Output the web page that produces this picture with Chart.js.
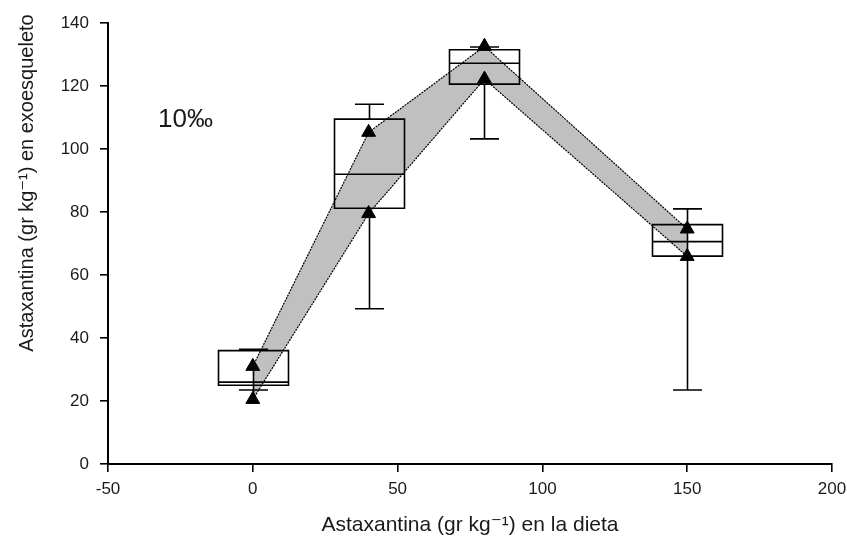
<!DOCTYPE html>
<html>
<head>
<meta charset="utf-8">
<script src="https://cdn.jsdelivr.net/npm/chart.js@4"></script>
<style>
  html, body { margin: 0; padding: 0; background: #fff; }
  #c { display: block; }
</style>
</head>
<body>
<canvas id="c" width="847" height="541"></canvas>
<script>
// Dietary astaxanthin dose (x) and exoskeleton astaxanthin (y)
const doses = [0, 40, 80, 150];
const whiskerHigh = [36.4, 114.2, 132.4, 81.0];
const boxQ3 = [36.0, 109.5, 131.5, 76.0];
const boxMedian = [26.0, 92.0, 127.2, 70.6];
const boxQ1 = [25.0, 81.2, 120.6, 66.0];
const whiskerLow = [23.5, 49.3, 103.2, 23.5];
const upperTrend = [31.0, 105.3, 132.6, 74.6];
const lowerTrend = [20.5, 79.5, 122.2, 65.9];
const markerLink = [true, false, false, true];
const xTicks = [-50, 0, 50, 100, 150, 200];
const yTicks = [0, 20, 40, 60, 80, 100, 120, 140];
const salinityLabel = '10‰';
const salinityPos = { x: -32.7, y: 107 };
const xTitle = 'Astaxantina (gr kg⁻¹) en la dieta';
const yTitle = 'Astaxantina (gr kg⁻¹) en exoesqueleto';

const FONT = '"Liberation Sans", Arial, "DejaVu Sans", sans-serif';
const INK = '#1a1a1a';

const boxPlugin = {
  id: 'boxes',
  beforeDatasetsDraw(chart) {
    const { ctx, scales: { x, y } } = chart;
    const half = 35, cap = 14.5;
    ctx.save();
    ctx.strokeStyle = '#000';
    ctx.lineWidth = 1.6;
    doses.forEach((d, i) => {
      const px = Math.round(x.getPixelForValue(d)) + 0.5;
      const top = y.getPixelForValue(boxQ3[i]);
      const bot = y.getPixelForValue(boxQ1[i]);
      const med = y.getPixelForValue(boxMedian[i]);
      const hi = y.getPixelForValue(whiskerHigh[i]);
      const lo = y.getPixelForValue(whiskerLow[i]);
      ctx.beginPath();
      ctx.rect(px - half, top, 2 * half, bot - top);
      ctx.moveTo(px - half, med); ctx.lineTo(px + half, med);
      ctx.moveTo(px, top); ctx.lineTo(px, hi);
      ctx.moveTo(px - cap, hi); ctx.lineTo(px + cap, hi);
      ctx.moveTo(px, bot); ctx.lineTo(px, lo);
      ctx.moveTo(px - cap, lo); ctx.lineTo(px + cap, lo);
      if (markerLink[i]) {
        ctx.moveTo(px, y.getPixelForValue(upperTrend[i]));
        ctx.lineTo(px, y.getPixelForValue(lowerTrend[i]));
      }
      ctx.stroke();
    });
    ctx.restore();
  },
  afterDraw(chart) {
    const { ctx, scales: { x, y } } = chart;
    ctx.save();
    ctx.fillStyle = INK;
    ctx.font = '26px ' + FONT;
    ctx.textBaseline = 'alphabetic';
    ctx.textAlign = 'left';
    ctx.fillText(salinityLabel, x.getPixelForValue(salinityPos.x), y.getPixelForValue(salinityPos.y));
    // vertical axis title, sitting toward the upper part of the axis
    ctx.translate(27, 183);
    ctx.rotate(-Math.PI / 2);
    ctx.font = '20px ' + FONT;
    ctx.textAlign = 'center';
    ctx.textBaseline = 'middle';
    ctx.fillText(yTitle, 0, 0);
    ctx.restore();
  }
};

const trendStyle = {
  borderColor: '#000',
  borderWidth: 1.2,
  borderDash: [2, 1],
  pointStyle: 'triangle',
  pointRadius: 8,
  pointBackgroundColor: '#000',
  pointBorderColor: '#000',
  pointBorderWidth: 1,
  tension: 0
};

new Chart(document.getElementById('c'), {
  type: 'line',
  data: {
    datasets: [
      Object.assign({
        label: 'superior',
        data: doses.map((d, i) => ({ x: d, y: upperTrend[i] })),
        fill: '+1',
        backgroundColor: '#c0c0c0'
      }, trendStyle),
      Object.assign({
        label: 'inferior',
        data: doses.map((d, i) => ({ x: d, y: lowerTrend[i] })),
        fill: false
      }, trendStyle)
    ]
  },
  options: {
    responsive: false,
    animation: false,
    devicePixelRatio: 1,
    layout: { padding: { top: 23, right: 15, left: 0, bottom: 0 } },
    plugins: {
      legend: { display: false },
      tooltip: { enabled: false },
      filler: { drawTime: 'beforeDatasetsDraw' }
    },
    scales: {
      x: {
        type: 'linear',
        min: xTicks[0],
        max: xTicks[xTicks.length - 1],
        afterBuildTicks: s => { s.ticks = xTicks.map(v => ({ value: v })); },
        afterFit: s => { s.height = 77; s.paddingLeft = 0; s.paddingRight = 0; },
        border: { display: true, color: '#000', width: 2 },
        grid: { display: true, drawOnChartArea: false, drawTicks: true, tickLength: 8, color: '#000', lineWidth: 1.6 },
        ticks: { color: INK, font: { family: FONT, size: 17 }, padding: 7, maxRotation: 0 },
        title: {
          display: true,
          text: xTitle,
          color: INK,
          font: { family: FONT, size: 21 },
          padding: { top: 0, bottom: 3 }
        }
      },
      y: {
        type: 'linear',
        min: yTicks[0],
        max: yTicks[yTicks.length - 1],
        afterBuildTicks: s => { s.ticks = yTicks.map(v => ({ value: v })); },
        afterFit: s => { s.width = 108; s.paddingTop = 0; s.paddingBottom = 0; },
        border: { display: true, color: '#000', width: 2 },
        grid: { display: true, drawOnChartArea: false, drawTicks: true, tickLength: 8, color: '#000', lineWidth: 1.6 },
        ticks: { color: INK, font: { family: FONT, size: 17 }, padding: 11 },
        title: { display: false }
      }
    }
  },
  plugins: [boxPlugin]
});
</script>
</body>
</html>
